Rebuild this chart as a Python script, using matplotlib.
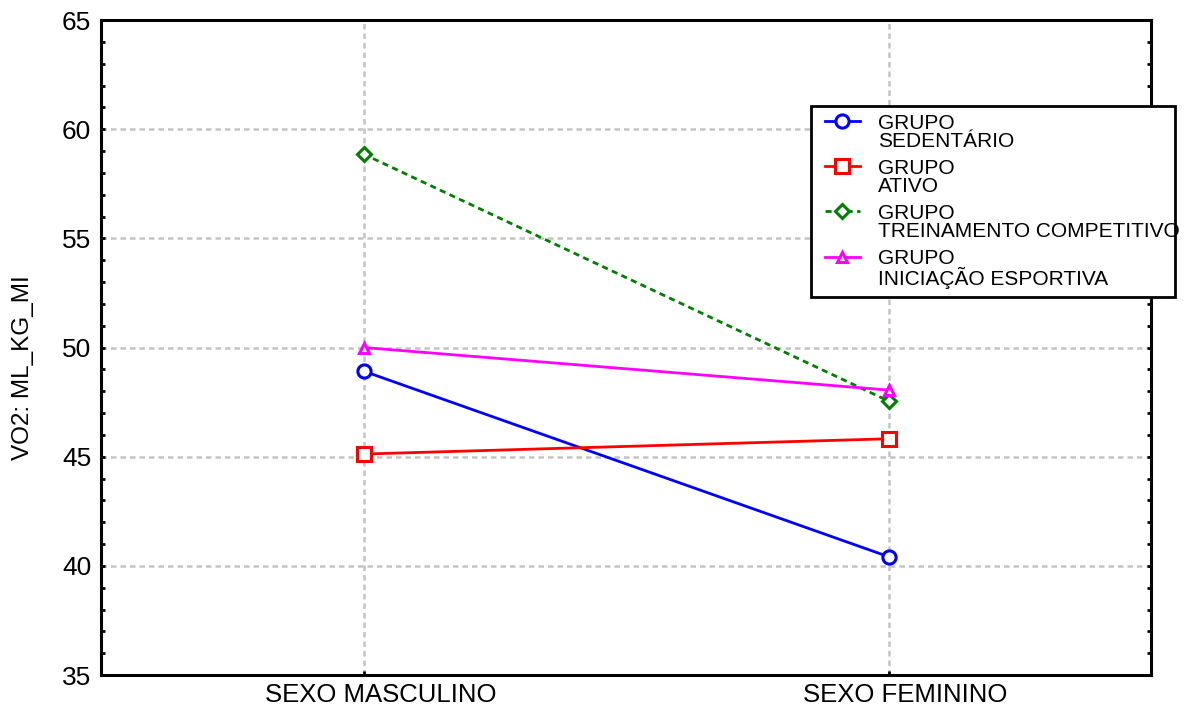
import matplotlib
matplotlib.use("Agg")
import matplotlib.pyplot as plt
from matplotlib.ticker import MultipleLocator
from matplotlib.legend_handler import HandlerLine2D
from matplotlib.lines import Line2D
from matplotlib.transforms import ScaledTranslation

plt.rcParams['font.family'] = ['Liberation Sans', 'DejaVu Sans']

categories = ["SEXO MASCULINO", "SEXO FEMININO"]
labels = ["GRUPO\nSEDENTÁRIO", "GRUPO\nATIVO",
          "GRUPO\nTREINAMENTO COMPETITIVO", "GRUPO\nINICIAÇÃO ESPORTIVA"]
sedentario = [48.92, 40.42]
ativo = [45.12, 45.82]
treinamento = [58.86, 47.55]
iniciacao = [50.0, 48.05]
ylabel = "VO2: ML_KG_MI"

series = [sedentario, ativo, treinamento, iniciacao]
colors = ["#0000ff", "#ff0000", "#008000", "#ff00ff"]
markers = ["o", "s", "D", "^"]
msizes = [9.5, 9.5, 7.5, 7.5]
styles = ["-", "-", (0, (2.2, 1.6)), "-"]


class UpHandler(HandlerLine2D):
    """Line handle aligned with the first line of a two-line label."""
    def adjust_drawing_area(self, legend, orig_handle, xdescent, ydescent,
                            width, height, fontsize):
        xd, yd, w, h = super().adjust_drawing_area(
            legend, orig_handle, xdescent, ydescent, width, height, fontsize)
        return xd, yd - 1.15 * fontsize, w, h


fig = plt.figure(figsize=(11.86, 7.11), dpi=100)
ax = fig.add_axes([101/1186, 1 - 675/711, (1151-101)/1186, (675-20)/711])

x = list(range(len(categories)))
for vals, lab, c, m, ms, ls in zip(series, labels, colors, markers, msizes, styles):
    ax.plot(x, vals, color=c, lw=2.0, ls=ls, marker=m, ms=ms,
            mfc="white", mec=c, mew=2.2, label=lab, zorder=3)

ax.set_xlim(-0.5, 1.5)
ax.set_ylim(35, 65)
ax.set_xticks(x)
ax.set_xticklabels(categories, fontsize=18.5)
ax.yaxis.set_major_locator(MultipleLocator(5))
ax.yaxis.set_minor_locator(MultipleLocator(1))
ax.tick_params(axis='y', which='both', direction='in', length=3, width=2,
               labelsize=19, right=True, pad=7)
ax.tick_params(axis='x', which='major', direction='in', length=3, width=2, pad=6)
ax.grid(True, which='major', color='#c4c4c4', ls=(0, (2.2, 1.6)), lw=1.8, zorder=0)
for s in ax.spines.values():
    s.set_linewidth(2.2)
shift = ScaledTranslation(17/100, 0, fig.dpi_scale_trans)
for lbl in ax.get_xticklabels():
    lbl.set_transform(lbl.get_transform() + shift)

ax.set_ylabel(ylabel, fontsize=17.5)
ax.yaxis.set_label_coords(-0.064, 0.47)

hm = {Line2D: UpHandler(xpad=0.3)}
leg = fig.legend(loc='upper left',
                 bbox_to_anchor=(811/1186, 0, (1175-811)/1186, 1 - 106/711),
                 bbox_transform=fig.transFigure, mode='expand',
                 borderaxespad=0, fontsize=15, handlelength=1.95,
                 handletextpad=0.9, labelspacing=0.4, fancybox=False,
                 framealpha=1, edgecolor='black', borderpad=0.38,
                 handler_map=hm)
leg.get_frame().set_linewidth(2)
for t in leg.get_texts():
    t.set_linespacing(0.92)

fig.savefig("out.png", dpi=100)
